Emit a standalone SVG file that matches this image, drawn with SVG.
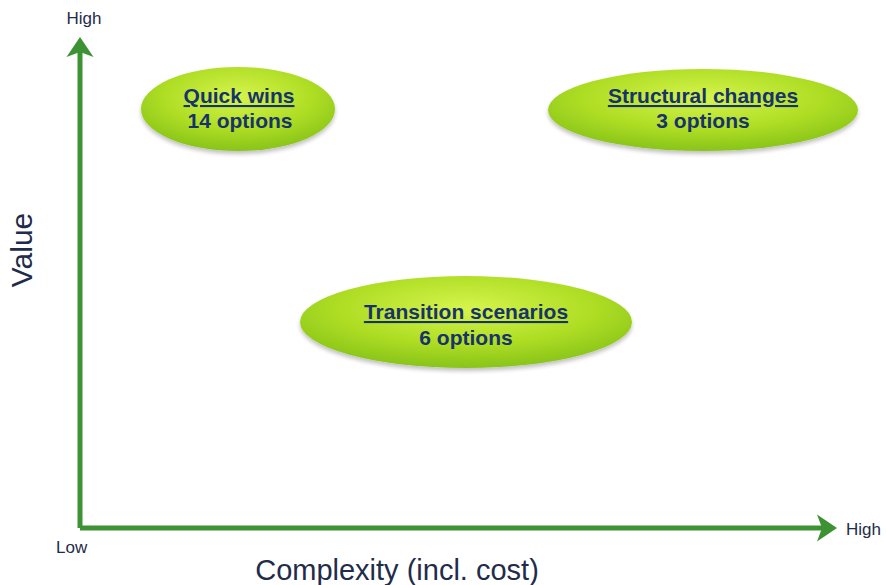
<svg xmlns="http://www.w3.org/2000/svg" width="886" height="585" viewBox="0 0 886 585">
<style>
.lbl{font-family:"Liberation Sans",Arial,sans-serif;fill:#1f2c4a}
.nt{font-family:"Liberation Sans",Arial,sans-serif;font-weight:bold;font-size:21px;fill:#17336b;text-anchor:middle}
.u{text-decoration:underline}
.ax{stroke:#3d9233;stroke-width:5;fill:none}
.ell{fill:url(#g);filter:url(#sh)}
</style>
<defs>
<radialGradient id="g" cx="0.5" cy="0.35" r="0.65">
<stop offset="0" stop-color="#d6f44c"/>
<stop offset="0.6" stop-color="#aedd24"/>
<stop offset="1" stop-color="#88c41a"/>
</radialGradient>
<filter id="sh" x="-10%" y="-10%" width="120%" height="130%">
<feGaussianBlur in="SourceAlpha" stdDeviation="2"/>
<feOffset dy="3"/>
<feComponentTransfer><feFuncA type="linear" slope="0.25"/></feComponentTransfer>
<feMerge><feMergeNode/><feMergeNode in="SourceGraphic"/></feMerge>
</filter>
<marker id="ah" markerWidth="6" markerHeight="6" refX="3" refY="3" orient="auto" markerUnits="strokeWidth">
<path d="M0,0.3 L4,3 L0,5.7 L1,3 Z" fill="#3d9233"/>
</marker>
</defs>
<g id="connectors">
<path class="ax" d="M80,528 L80,42" marker-end="url(#ah)"/>
<path class="ax" d="M80,528 L832,528" marker-end="url(#ah)"/>
</g>
<g id="labels">
<text class="lbl" x="84" y="24" font-size="17" text-anchor="middle">High</text>
<text class="lbl" x="56" y="553" font-size="17">Low</text>
<text class="lbl" x="846" y="535" font-size="17">High</text>
<text class="lbl" x="32" y="250" font-size="30" text-anchor="middle" transform="rotate(-90 32 250)">Value</text>
<text class="lbl" x="397" y="580" font-size="29" text-anchor="middle">Complexity (incl. cost)</text>
</g>
<g id="quick-wins">
<ellipse class="ell" cx="238" cy="109" rx="97" ry="42"/>
<text class="nt u" x="239" y="103">Quick wins</text>
<text class="nt" x="240" y="128">14 options</text>
</g>
<g id="structural-changes">
<ellipse class="ell" cx="703" cy="110" rx="155" ry="41"/>
<text class="nt u" x="703" y="103">Structural changes</text>
<text class="nt" x="703" y="128">3 options</text>
</g>
<g id="transition-scenarios">
<ellipse class="ell" cx="466" cy="322" rx="166" ry="46"/>
<text class="nt u" x="466" y="319">Transition scenarios</text>
<text class="nt" x="466" y="345">6 options</text>
</g>
</svg>
